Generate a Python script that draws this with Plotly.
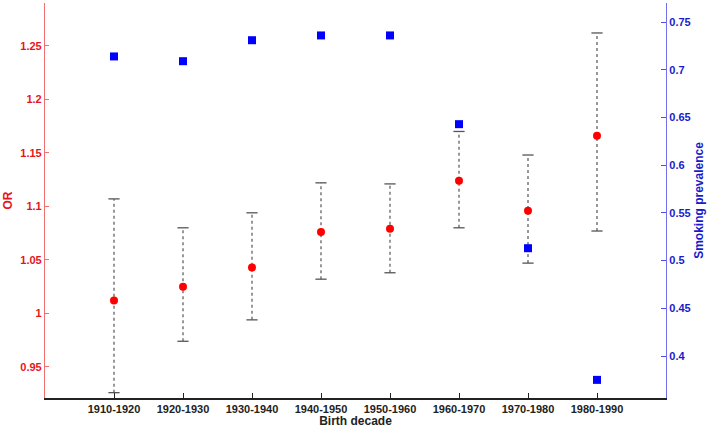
import plotly.graph_objects as go

decades = ["1910-1920", "1920-1930", "1930-1940", "1940-1950",
           "1950-1960", "1960-1970", "1970-1980", "1980-1990"]
or_value = [1.012, 1.025, 1.043, 1.076, 1.079, 1.124, 1.096, 1.166]
or_lower = [0.926, 0.974, 0.994, 1.032, 1.038, 1.080, 1.047, 1.077]
or_upper = [1.107, 1.080, 1.094, 1.122, 1.121, 1.170, 1.148, 1.262]
smoking_prev = [0.714, 0.709, 0.731, 0.736, 0.736, 0.643, 0.513, 0.375]

RED = "#ff0000"
BLUE = "#0000ff"
FONT = "Liberation Sans, Arial, sans-serif"

xpos = list(range(1, len(decades) + 1))

# dotted whiskers, one segment per decade separated by None
wx, wy = [], []
for x, lo, hi in zip(xpos, or_lower, or_upper):
    wx += [x, x, None]
    wy += [lo, hi, None]

fig = go.Figure()
fig.add_trace(go.Scatter(
    x=wx, y=wy, mode="lines",
    line=dict(color="#555555", width=1.2, dash="dot"),
    hoverinfo="skip", showlegend=False,
))
fig.add_trace(go.Scatter(
    x=xpos + xpos, y=or_lower + or_upper, mode="markers",
    marker=dict(symbol="line-ew", size=8, line=dict(color="#555555", width=1.3)),
    hoverinfo="skip", showlegend=False,
))
fig.add_trace(go.Scatter(
    x=xpos, y=or_value, mode="markers", name="OR",
    marker=dict(symbol="circle", size=8, color=RED),
    showlegend=False,
))
fig.add_trace(go.Scatter(
    x=xpos, y=smoking_prev, mode="markers", name="Smoking prevalence",
    marker=dict(symbol="square", size=8, color=BLUE),
    yaxis="y2", showlegend=False,
))

fig.update_layout(
    width=709, height=428,
    margin=dict(l=45, r=43, t=3, b=30),
    plot_bgcolor="white", paper_bgcolor="white",
    font=dict(family=FONT, size=11, color="black"),
    xaxis=dict(
        range=[0, 9], tickvals=xpos, ticktext=decades,
        showgrid=False, zeroline=False,
        showline=True, linecolor="#222222", linewidth=1.5,
        ticks="inside", ticklen=5, tickcolor="#222222",
        tickfont=dict(family=FONT, size=11, color="#222222", weight="bold"),
        title=dict(text="Birth decade", standoff=1,
                   font=dict(family=FONT, size=12, color="#222222", weight="bold")),
    ),
    yaxis=dict(
        range=[0.921, 1.29], tickvals=[0.95, 1, 1.05, 1.1, 1.15, 1.2, 1.25],
        ticktext=["0.95", "1", "1.05", "1.1", "1.15", "1.2", "1.25"],
        showgrid=False, zeroline=False,
        showline=True, linecolor="#f07070", linewidth=1.2,
        ticks="inside", ticklen=4, tickcolor="#f07070",
        tickfont=dict(family=FONT, size=11, color="#e8141c", weight="bold"),
        title=dict(text="OR", standoff=5,
                   font=dict(family=FONT, size=12, color="#e8141c", weight="bold")),
    ),
    yaxis2=dict(
        overlaying="y", side="right",
        range=[0.356, 0.770],
        tickvals=[0.4, 0.45, 0.5, 0.55, 0.6, 0.65, 0.7, 0.75],
        ticktext=["0.4", "0.45", "0.5", "0.55", "0.6", "0.65", "0.7", "0.75"],
        showgrid=False, zeroline=False,
        showline=True, linecolor="#7070e8", linewidth=1.2,
        ticks="inside", ticklen=5, tickcolor="#5050e0",
        tickfont=dict(family=FONT, size=11, color="#1a1acc", weight="bold"),
        title=dict(text="Smoking prevalence", standoff=4,
                   font=dict(family=FONT, size=12, color="#1a1acc", weight="bold")),
    ),
)

# drop the page's default body margin so the figure sits at the window's corner
fig.write_html("out.html", config={"displayModeBar": False},
               post_script="document.body.style.margin = '0';")
